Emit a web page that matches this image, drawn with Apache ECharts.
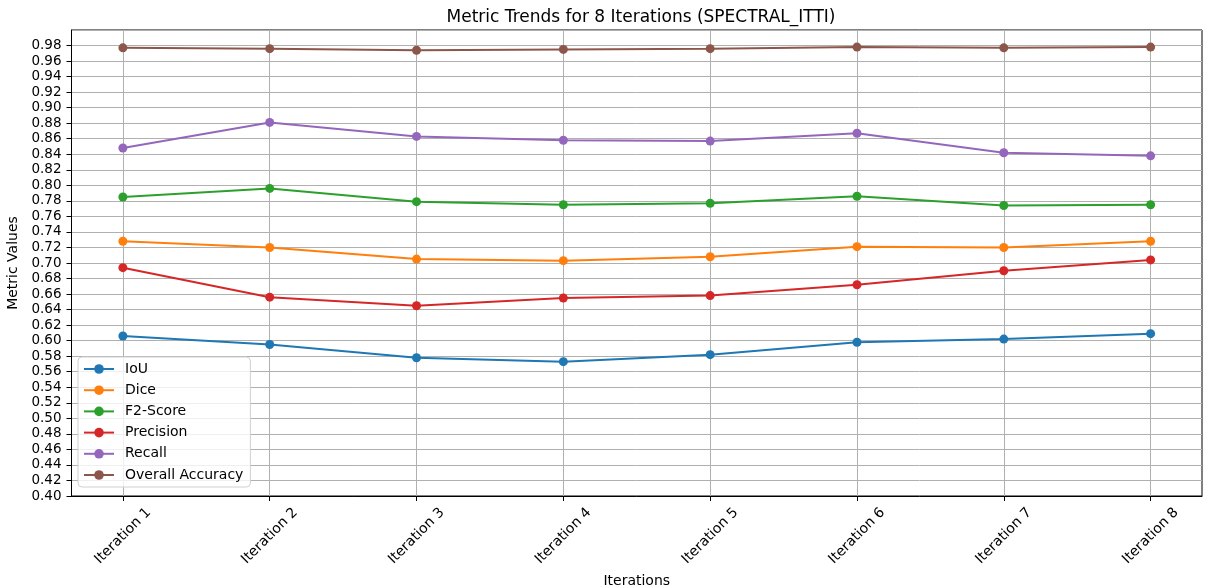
<!DOCTYPE html>
<html>
<head>
<meta charset="utf-8">
<script src="https://cdn.jsdelivr.net/npm/echarts@6/dist/echarts.min.js"></script>
<style>html,body{margin:0;padding:0;background:#fff}#c{width:1205px;height:588px}</style>
</head>
<body>
<div id="c"></div>
<script>
const categories = ['Iteration 1','Iteration 2','Iteration 3','Iteration 4','Iteration 5','Iteration 6','Iteration 7','Iteration 8'];
const iou = [0.606, 0.595, 0.578, 0.573, 0.582, 0.598, 0.602, 0.609];
const dice = [0.728, 0.720, 0.705, 0.703, 0.708, 0.721, 0.720, 0.728];
const f2Score = [0.785, 0.796, 0.779, 0.775, 0.777, 0.786, 0.774, 0.775];
const precision = [0.694, 0.656, 0.645, 0.655, 0.658, 0.672, 0.690, 0.704];
const recall = [0.848, 0.881, 0.863, 0.858, 0.857, 0.867, 0.842, 0.838];
const overallAccuracy = [0.977, 0.976, 0.974, 0.975, 0.976, 0.978, 0.977, 0.978];
const seriesNames = ['IoU','Dice','F2-Score','Precision','Recall','Overall Accuracy'];
const seriesValues = [iou, dice, f2Score, precision, recall, overallAccuracy];
const colors = ['#1f77b4','#ff7f0e','#2ca02c','#d62728','#9467bd','#8c564b'];

const chart = echarts.init(document.getElementById('c'));
const idx = categories.map((_, i) => i);
chart.setOption({
  animation: false,
  color: colors,
  textStyle: { fontFamily: 'DejaVu Sans' },
  title: {
    text: 'Metric Trends for 8 Iterations (SPECTRAL_ITTI)',
    left: 636, top: 4, textAlign: 'center',
    textStyle: { fontSize: 17, fontWeight: 'normal', color: '#000', fontFamily: 'DejaVu Sans' }
  },
  grid: {
    left: 71.5, right: 3, top: 30, bottom: 92,
    outerBoundsMode: 'none', containLabel: false,
    show: true, borderColor: '#000', borderWidth: 1, backgroundColor: 'transparent'
  },
  legend: {
    orient: 'vertical', left: 78, top: 357,
    itemWidth: 30, itemHeight: 12, itemGap: 7.2,
    padding: [5, 7, 5, 5],
    backgroundColor: 'rgba(255,255,255,0.8)',
    borderColor: '#d0d0d0', borderWidth: 1, borderRadius: 4,
    textStyle: { fontSize: 14, color: '#000', fontFamily: 'DejaVu Sans', padding: [0, 0, 0, 6] },
    data: seriesNames
  },
  xAxis: {
    type: 'value', min: -0.35, max: 7.35,
    name: 'Iterations', nameLocation: 'middle', nameGap: 78,
    nameTextStyle: { fontSize: 14, color: '#000' },
    axisLine: { show: true, onZero: false, lineStyle: { color: '#000' } },
    axisTick: { show: true, length: 5, customValues: idx, lineStyle: { color: '#000' } },
    axisLabel: {
      customValues: idx, rotate: 45, align: 'center', verticalAlign: 'middle', margin: 40,
      fontSize: 14, color: '#000',
      formatter: v => categories[Math.round(v)]
    },
    splitLine: { show: true, lineStyle: { color: '#b0b0b0', width: 1 } }
  },
  yAxis: {
    type: 'value', min: 0.4, max: 1.0, interval: 0.02,
    name: 'Metric Values', nameLocation: 'middle', nameGap: 42, nameRotate: 90,
    nameTextStyle: { fontSize: 14, color: '#000' },
    axisLine: { show: true, onZero: false, lineStyle: { color: '#000' } },
    axisTick: { show: true, length: 5, lineStyle: { color: '#000' } },
    axisLabel: {
      fontSize: 13.5, color: '#000', margin: 10, showMaxLabel: false,
      formatter: v => v.toFixed(2)
    },
    splitLine: { show: true, lineStyle: { color: '#b0b0b0', width: 1 } }
  },
  series: seriesNames.map((name, s) => ({
    name, type: 'line',
    data: seriesValues[s].map((v, i) => [i, v]),
    symbol: 'circle', symbolSize: 9,
    lineStyle: { width: 2 },
    itemStyle: { color: colors[s] }
  }))
});
</script>
</body>
</html>
